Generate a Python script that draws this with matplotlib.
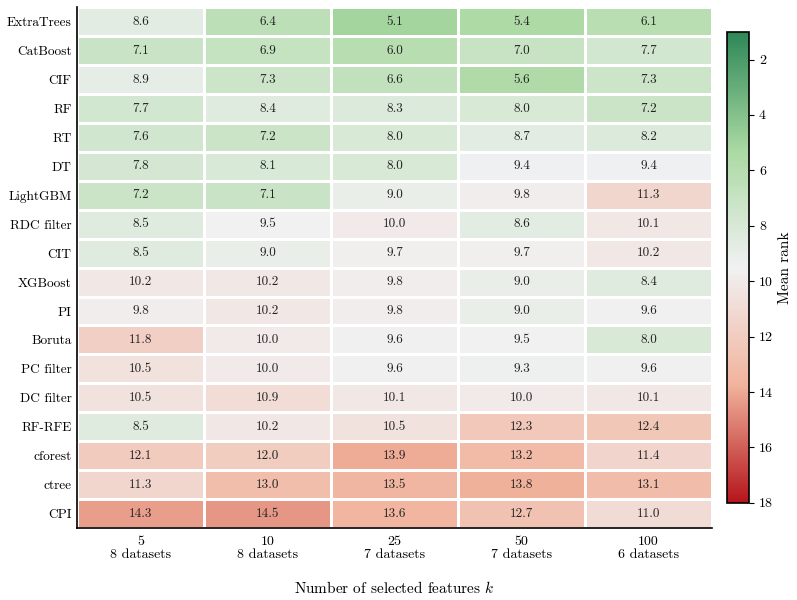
import numpy as np
import matplotlib
matplotlib.use("Agg")
import matplotlib.pyplot as plt
from matplotlib.colors import LinearSegmentedColormap

plt.rcParams['font.family'] = 'serif'
plt.rcParams['font.serif'] = ['cmr10', 'DejaVu Serif']
plt.rcParams['mathtext.fontset'] = 'cm'
plt.rcParams['axes.unicode_minus'] = False

methods = ["ExtraTrees", "CatBoost", "CIF", "RF", "RT", "DT", "LightGBM",
           "RDC filter", "CIT", "XGBoost", "PI", "Boruta", "PC filter",
           "DC filter", "RF-RFE", "cforest", "ctree", "CPI"]
k_values = [5, 10, 25, 50, 100]
n_datasets = [8, 8, 7, 7, 6]

col_5 = [8.6, 7.1, 8.9, 7.7, 7.6, 7.8, 7.2, 8.5, 8.5, 10.2, 9.8, 11.8, 10.5, 10.5, 8.5, 12.1, 11.3, 14.3]
col_10 = [6.4, 6.9, 7.3, 8.4, 7.2, 8.1, 7.1, 9.5, 9.0, 10.2, 10.2, 10.0, 10.0, 10.9, 10.2, 12.0, 13.0, 14.5]
col_25 = [5.1, 6.0, 6.6, 8.3, 8.0, 8.0, 9.0, 10.0, 9.7, 9.8, 9.8, 9.6, 9.6, 10.1, 10.5, 13.9, 13.5, 13.6]
col_50 = [5.4, 7.0, 5.6, 8.0, 8.7, 9.4, 9.8, 8.6, 9.7, 9.0, 9.0, 9.5, 9.3, 10.0, 12.3, 13.2, 13.8, 12.7]
col_100 = [6.1, 7.7, 7.3, 7.2, 8.2, 9.4, 11.3, 10.1, 10.2, 8.4, 9.6, 8.0, 9.6, 10.1, 12.4, 11.4, 13.1, 11.0]

ranks = np.array([col_5, col_10, col_25, col_50, col_100]).T

cmap = LinearSegmentedColormap.from_list(
    "rank", ["#2e8757", "#aad9a2", "#f1f1f3", "#f1b39d", "#b5161b"])

fig = plt.figure(figsize=(7.97, 6), dpi=100)
ax = fig.add_axes([0.0966, 0.12, 0.797, 0.868])
cax = fig.add_axes([0.912, 0.162, 0.028, 0.785])

mesh = ax.pcolormesh(ranks, cmap=cmap, vmin=1, vmax=18,
                     edgecolors="white", linewidth=1.0)
ax.set_xlim(0, len(k_values))
ax.set_ylim(len(methods), 0)

for i in range(len(methods)):
    for j in range(len(k_values)):
        ax.text(j + 0.5, i + 0.5, "%.1f" % ranks[i, j], ha="center",
                va="center", fontsize=9.5, color="#222222")

ax.set_yticks(np.arange(len(methods)) + 0.5)
ax.set_yticklabels(methods, fontsize=9.6)
ax.set_xticks(np.arange(len(k_values)) + 0.5)
ax.set_xticklabels(["%d\n%d datasets" % (k, n) for k, n in zip(k_values, n_datasets)],
                   fontsize=10, linespacing=1.1)
ax.tick_params(axis="x", length=0, pad=6)
ax.tick_params(axis="y", length=0, pad=4)
ax.set_xlabel("Number of selected features $k$", fontsize=11, labelpad=13)
for s in ["top", "right"]:
    ax.spines[s].set_visible(False)
for s in ["left", "bottom"]:
    ax.spines[s].set_linewidth(1.2)

cb = fig.colorbar(mesh, cax=cax)
cb.ax.invert_yaxis()
cb.set_ticks([2, 4, 6, 8, 10, 12, 14, 16, 18])
cb.ax.tick_params(labelsize=10)
cb.outline.set_linewidth(1.2)
cb.set_label("Mean rank", fontsize=11)

fig.savefig("out.png", dpi=100)
